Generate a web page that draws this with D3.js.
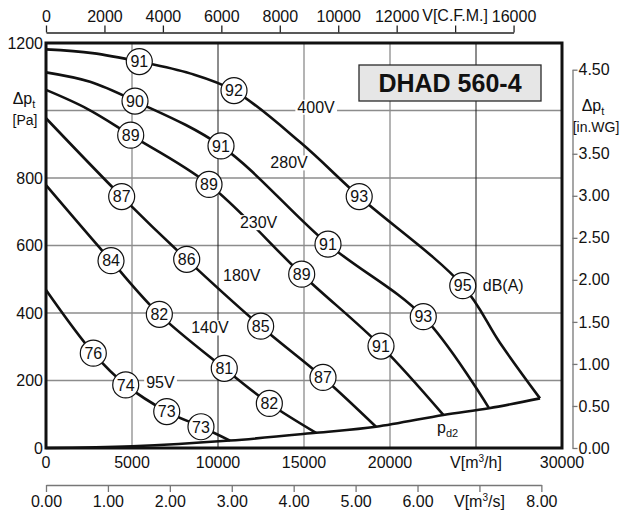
<!DOCTYPE html>
<html><head><meta charset="utf-8">
<script src="https://cdn.jsdelivr.net/npm/d3@7"></script>
<style>
html,body{margin:0;padding:0;background:#fff;}
svg{display:block;font-family:"Liberation Sans",Arial,Helvetica,sans-serif;}
</style></head>
<body><svg id="c" width="620" height="515"></svg>
<script>
// ---------- data ----------
const pressureTicks = [0, 200, 400, 600, 800, 1200];
const flowTicks = [0, 5000, 10000, 15000, 20000, 30000];
const gridPressure = [200, 400, 600, 800, 1000];
const gridFlow = [5000, 10000, 15000, 20000, 25000];
const darkGridFlow = [10000, 25000];
const cfmTicks = [0, 2000, 4000, 6000, 8000, 10000, 12000, 14000, 16000];
const m3sTicks = [0, 1, 2, 3, 4, 5, 6, 7, 8];
const inwgTicks = [0, 0.5, 1, 1.5, 2, 2.5, 3, 3.5, 4.5];

const curve400 = [[0,1181],[2700,1170],[5424,1145],[8370,1110],[10930,1059],[14800,905],[18210,745],[24230,481],[26400,311],[28720,147]];
const curve280 = [[0,1113],[2560,1085],[5175,1028],[10175,895],[16395,604],[21935,389],[25755,118]];
const curve230 = [[0,1061],[2400,1005],[4925,927],[9477,781],[14866,515],[19477,302],[23100,98]];
const curve180 = [[0,977],[4400,745],[8180,559],[12480,361],[16105,209],[19185,63]];
const curve140 = [[0,779],[3780,555],[6590,396],[10365,236],[12985,132],[15700,45]];
const curve95 = [[0,468],[2750,281],[4635,187],[7020,108],[9010,63],[10700,22]];
const curvePd2 = [[0,0],[5000,5],[10700,22],[15700,45],[19185,63],[23100,98],[25755,118],[28720,147]];

const marks400 = [[5424,1145,"91"],[10930,1059,"92"],[18210,745,"93"],[24230,481,"95"]];
const marks280 = [[5175,1028,"90"],[10175,895,"91"],[16395,604,"91"],[21935,389,"93"]];
const marks230 = [[4925,927,"89"],[9477,781,"89"],[14866,515,"89"],[19477,302,"91"]];
const marks180 = [[4400,745,"87"],[8180,559,"86"],[12480,361,"85"],[16105,209,"87"]];
const marks140 = [[3780,555,"84"],[6590,396,"82"],[10365,236,"81"],[12985,132,"82"]];
const marks95 = [[2750,281,"76"],[4635,187,"74"],[7020,108,"73"],[9010,63,"73"]];

const speedLabels = ["400V","280V","230V","180V","140V","95V"];
const speedLabelAt = [[15700,1010],[14130,845],[12360,668],[11380,510],[9530,356],[6650,193]];
const title = "DHAD 560-4";

// ---------- scales ----------
const svg = d3.select("#c");
const X0 = 46, X1 = 562, Y0 = 448, Y1 = 43;
const x = d3.scaleLinear().domain([0, 30000]).range([X0, X1]);
const y = d3.scaleLinear().domain([0, 1200]).range([Y0, Y1]);
const CFM = 1.69901, INWG = 249.089;
const xCfm = d3.scaleLinear().domain([0, 16000]).range([x(0), x(16000 * CFM)]);
const xM3s = d3.scaleLinear().domain([0, 8]).range([x(0), x(8 * 3600)]);
const yInwg = d3.scaleLinear().domain([0, 4.5]).range([y(0), y(4.5 * INWG)]);

const FS = 16;
const txt = (g, xx, yy, s, anchor, size) => g.append("text").attr("x", xx).attr("y", yy)
  .attr("text-anchor", anchor || "middle").attr("font-size", size || FS).attr("fill", "#111").text(s);

// ---------- grid ----------
const grid = svg.append("g");
grid.selectAll("line.h").data(gridPressure).join("line")
  .attr("x1", X0).attr("x2", X1).attr("y1", d => y(d)).attr("y2", d => y(d))
  .attr("stroke", "#8c8c8c").attr("stroke-width", 1.3);
grid.selectAll("line.v").data(gridFlow).join("line")
  .attr("y1", Y0).attr("y2", Y1).attr("x1", d => x(d)).attr("x2", d => x(d))
  .attr("stroke", d => darkGridFlow.includes(d) ? "#1a1a1a" : "#8c8c8c")
  .attr("stroke-width", d => darkGridFlow.includes(d) ? 1 : 1.3);

// ---------- curves ----------
const line = d3.line().x(d => x(d[0])).y(d => y(d[1])).curve(d3.curveCatmullRom.alpha(0.5));
const curves = [curve400, curve280, curve230, curve180, curve140, curve95, curvePd2];
svg.append("g").selectAll("path").data(curves).join("path")
  .attr("d", line).attr("fill", "none").attr("stroke", "#111").attr("stroke-width", 2.6)
  .attr("stroke-linejoin", "round");

// ---------- speed labels with white background ----------
function bgLabel(xx, yy, s, anchor) {
  const g = svg.append("g");
  const t = g.append("text").attr("x", xx).attr("y", yy).attr("dy", "0.35em")
    .attr("text-anchor", anchor || "middle").attr("font-size", FS).attr("fill", "#111").text(s);
  const b = t.node().getBBox();
  g.insert("rect", "text").attr("x", b.x - 2).attr("y", b.y + 1).attr("width", b.width + 4)
    .attr("height", b.height - 2).attr("fill", "#fff");
  return t;
}
speedLabels.forEach((s, i) => bgLabel(x(speedLabelAt[i][0]), y(speedLabelAt[i][1]), s));

// ---------- markers ----------
const allMarks = [].concat(marks400, marks280, marks230, marks180, marks140, marks95);
const mg = svg.append("g").selectAll("g").data(allMarks).join("g")
  .attr("transform", d => `translate(${x(d[0])},${y(d[1])})`);
mg.append("circle").attr("r", 13).attr("fill", "#fff").attr("stroke", "#111").attr("stroke-width", 1.2);
mg.append("text").attr("text-anchor", "middle").attr("dy", "0.36em").attr("font-size", FS)
  .attr("fill", "#111").text(d => d[2]);

// dB(A) and pd2
txt(svg, x(24230) + 20, y(481), "dB(A)", "start").attr("dy", "0.36em");
const pd = svg.append("text").attr("x", 437).attr("y", 433).attr("font-size", FS).attr("fill", "#111");
pd.append("tspan").text("p");
pd.append("tspan").attr("font-size", 11).attr("dy", 4).text("d2");

// ---------- frame ----------
svg.append("rect").attr("x", X0).attr("y", Y1).attr("width", X1 - X0).attr("height", Y0 - Y1)
  .attr("fill", "none").attr("stroke", "#111").attr("stroke-width", 3);

// ---------- title box ----------
svg.append("rect").attr("x", 359).attr("y", 65).attr("width", 182).attr("height", 36)
  .attr("fill", "#e6e6e6").attr("stroke", "#2a2a2a").attr("stroke-width", 1.3);
svg.append("text").attr("x", 450).attr("y", 92).attr("text-anchor", "middle")
  .attr("font-size", 25).attr("font-weight", "bold").attr("fill", "#111").text(title);

// ---------- left axis labels ----------
const la = svg.append("g");
pressureTicks.forEach(p => txt(la, 43, y(p), String(p), "end").attr("dy", "0.36em"));
const dpl = la.append("text").attr("x", 24).attr("y", 104).attr("text-anchor", "middle").attr("font-size", FS).attr("fill", "#111");
dpl.append("tspan").text("Δp");
dpl.append("tspan").attr("font-size", 11).attr("dy", 4).text("t");
txt(la, 25, 125, "[Pa]", "middle", 14);

// ---------- bottom m3/h labels ----------
const ba = svg.append("g");
flowTicks.forEach(v => txt(ba, x(v), 468, String(v), "middle"));
const vh = ba.append("text").attr("x", x(25000)).attr("y", 468).attr("text-anchor", "middle").attr("font-size", FS).attr("fill", "#111");
vh.append("tspan").text("V[m");
vh.append("tspan").attr("font-size", 10).attr("dy", -6).text("3");
vh.append("tspan").attr("dy", 6).text("/h]");

// ---------- top CFM axis ----------
const ta = svg.append("g").attr("transform", "translate(0,32.5)")
  .call(d3.axisTop(xCfm).tickValues(cfmTicks).tickSize(7).tickSizeOuter(0).tickPadding(4)
    .tickFormat(d => d === 14000 ? "" : String(d)));
ta.attr("font-family", null);
ta.select(".domain").attr("stroke", "#222").attr("stroke-width", 1.3);
ta.selectAll(".tick line").attr("stroke", "#222").attr("stroke-width", 1.3);
ta.selectAll(".tick text").attr("font-size", FS).attr("fill", "#111");
txt(svg, xCfm(14000), 20.5, "V[C.F.M.]", "middle");

// ---------- bottom m3/s axis ----------
const sa = svg.append("g").attr("transform", "translate(0,485)")
  .call(d3.axisBottom(xM3s).tickValues(m3sTicks).tickSize(7).tickSizeOuter(0).tickPadding(4)
    .tickFormat(d => d === 7 ? "" : d3.format(".2f")(d)));
sa.attr("font-family", null);
sa.select(".domain").attr("stroke", "#777").attr("stroke-width", 1.3);
sa.selectAll(".tick line").attr("stroke", "#777").attr("stroke-width", 1.3);
sa.selectAll(".tick text").attr("font-size", FS).attr("fill", "#111");
const vs = svg.append("text").attr("x", xM3s(7)).attr("y", 507).attr("text-anchor", "middle").attr("font-size", FS).attr("fill", "#111");
vs.append("tspan").text("V[m");
vs.append("tspan").attr("font-size", 10).attr("dy", -6).text("3");
vs.append("tspan").attr("dy", 6).text("/s]");

// ---------- right in.WG axis ----------
const ra = svg.append("g").attr("transform", "translate(572.5,0)")
  .call(d3.axisRight(yInwg).tickValues(inwgTicks).tickSize(5).tickSizeOuter(0).tickPadding(1)
    .tickFormat(d3.format(".2f")));
ra.attr("font-family", null);
ra.select(".domain").attr("stroke", "#777").attr("stroke-width", 1.3);
ra.selectAll(".tick line").attr("stroke", "#777").attr("stroke-width", 1.3);
ra.selectAll(".tick text").attr("font-size", FS).attr("fill", "#111");
const dpr = svg.append("text").attr("x", 593).attr("y", 111).attr("text-anchor", "middle").attr("font-size", FS).attr("fill", "#111");
dpr.append("tspan").text("Δp");
dpr.append("tspan").attr("font-size", 11).attr("dy", 4).text("t");
txt(svg, 596, 131.5, "[in.WG]", "middle", 14);
</script></body></html>
